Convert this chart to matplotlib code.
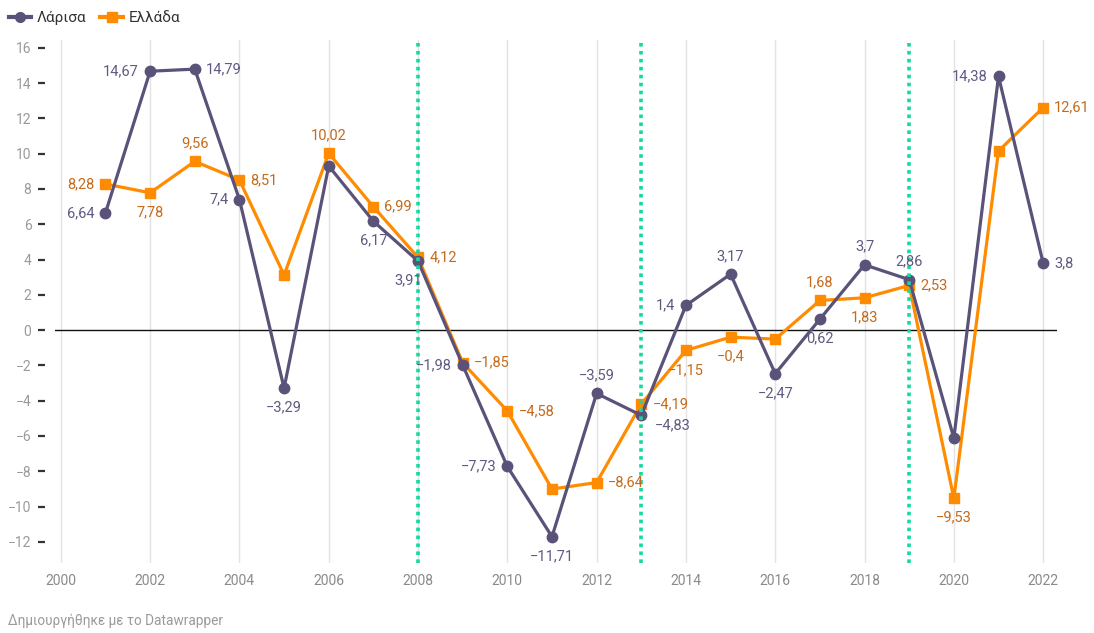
import matplotlib
matplotlib.use("Agg")
import matplotlib.pyplot as plt
from matplotlib.lines import Line2D

plt.rcParams['font.family'] = ['Roboto', 'DejaVu Sans']

years = list(range(2001, 2023))
larisa = [6.64, 14.67, 14.79, 7.4, -3.29, 9.3, 6.17, 3.91, -1.98, -7.73, -11.71,
          -3.59, -4.83, 1.4, 3.17, -2.47, 0.62, 3.7, 2.86, -6.12, 14.38, 3.8]
ellada = [8.28, 7.78, 9.56, 8.51, 3.12, 10.02, 6.99, 4.12, -1.85, -4.58, -9.01,
          -8.64, -4.19, -1.15, -0.4, -0.51, 1.68, 1.83, 2.53, -9.53, 10.15, 12.61]
marker_years = [2008, 2013, 2019]
xticks = list(range(2000, 2023, 2))
yticks = list(range(-12, 17, 2))
series_names = ['Λάρισα', 'Ελλάδα']

# label placement: year -> position code (None = no label)
lar_pos = {2001: 'l', 2002: 'l', 2003: 'r', 2004: 'l', 2005: 'b', 2007: 'b', 2008: 'bl',
           2009: 'l', 2010: 'l', 2011: 'b', 2012: 't', 2013: 'br', 2014: 'l', 2015: 't',
           2016: 'b', 2017: 'b', 2018: 't', 2019: 't', 2021: 'l', 2022: 'r'}
ell_pos = {2001: 'l', 2002: 'b', 2003: 't', 2004: 'r', 2006: 't', 2007: 'r', 2008: 'r',
           2009: 'r', 2010: 'r', 2012: 'r', 2013: 'r', 2014: 'b', 2015: 'b', 2017: 't',
           2018: 'b', 2019: 'r', 2020: 'b', 2022: 'r'}

C_LAR = '#5a5278'
C_ELL = '#ff8c00'
C_LAR_T = '#5f5a82'
C_ELL_T = '#c46a1c'
C_TEAL = '#14d9a0'

fig = plt.figure(figsize=(10.94, 6.33), dpi=100)
ax = fig.add_axes([55/1094, 1-563/633, (1057-55)/1094, (563-40)/633])

ax.set_xlim(1999.87, 2022.31)
ax.set_ylim(-13.2, 16.44)

for x in xticks:
    ax.axvline(x, color='#e3e3e3', lw=1, zorder=0)
ax.axhline(0, color='#111111', lw=1, zorder=1)

ax.plot(years, ellada, color=C_ELL, lw=2.3, marker='s', ms=7, zorder=3)
ax.plot(years, larisa, color=C_LAR, lw=2.3, marker='o', ms=7.5, zorder=4)

for x in marker_years:
    ax.axvline(x, color=C_TEAL, lw=2.6, linestyle=(0, (1, 1.2)), zorder=5)

def fmt(v):
    s = f"{v:g}".replace('.', ',')
    return s.replace('-', '\u2212')

offsets = {'l': (-8, 0, 'right', 'center'), 'r': (8, 0, 'left', 'center'),
           't': (0, 8, 'center', 'bottom'), 'b': (0, -9, 'center', 'top'),
           'bl': (3, -9, 'right', 'top'), 'br': (10, -2, 'left', 'top')}

def label(vals, pos, color):
    for y, v in zip(years, vals):
        p = pos.get(y)
        if p is None:
            continue
        dx, dy, ha, va = offsets[p]
        ax.annotate(fmt(v), (y, v), xytext=(dx, dy), textcoords='offset points',
                    ha=ha, va=va, fontsize=10.5, color=color, zorder=6)

label(larisa, lar_pos, C_LAR_T)
label(ellada, ell_pos, C_ELL_T)

for s in ax.spines.values():
    s.set_visible(False)
ax.spines['left'].set_position(('outward', 7))
ax.set_xticks(xticks)
ax.set_xticklabels([str(x) for x in xticks])
ax.set_yticks(yticks)
ax.set_yticklabels([fmt(y) for y in yticks])
ax.tick_params(axis='x', length=0, pad=8, labelsize=10, labelcolor='#8a8a8a')
ax.tick_params(axis='y', length=5, width=1.6, color='#333333', pad=5,
               labelsize=10, labelcolor='#9a9a9a')

handles = [Line2D([], [], color=C_LAR, lw=3, marker='o', ms=7),
           Line2D([], [], color=C_ELL, lw=3, marker='s', ms=6.5)]
fig.legend(handles, series_names, loc='upper left', bbox_to_anchor=(-0.002, 1.0),
           ncol=2, frameon=False, fontsize=11, handlelength=1.5,
           handletextpad=0.35, columnspacing=0.9, borderaxespad=0.3,
           labelcolor='#333333')

fig.text(8/1094, 1-621/633, 'Δημιουργήθηκε με το Datawrapper', fontsize=9.8,
         color='#9a9a9a', ha='left', va='center')

fig.savefig('out.png', dpi=100)
